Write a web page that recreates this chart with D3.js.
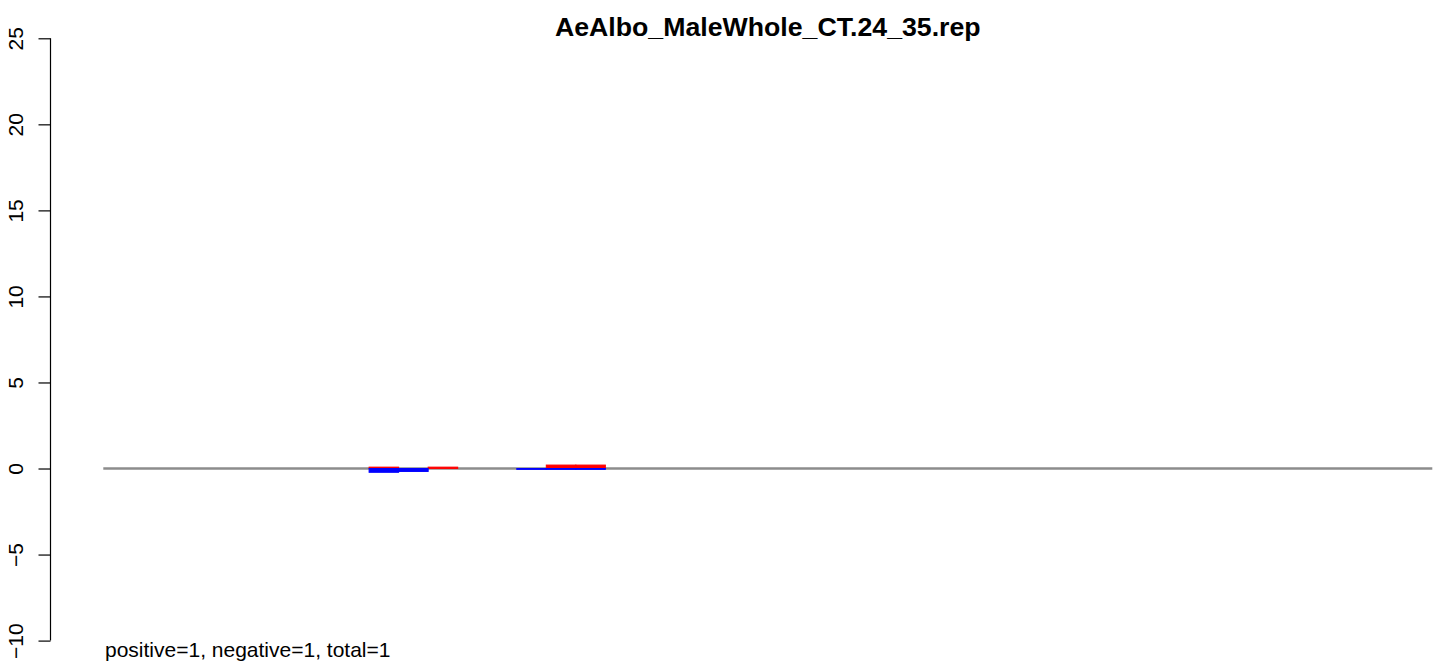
<!DOCTYPE html>
<html>
<head>
<meta charset="utf-8">
<script src="https://cdn.jsdelivr.net/npm/d3@7"></script>
<style>
  html, body { margin: 0; padding: 0; background: #fff; }
  svg { display: block; }
  text { font-family: "Liberation Sans", Arial, sans-serif; }
</style>
</head>
<body>
<svg id="chart" width="1439" height="664"></svg>
<script>
// ---- data ----
const chartTitle = "AeAlbo_MaleWhole_CT.24_35.rep";
const footnote = "positive=1, negative=1, total=1";
const binCount = 45;                       // x positions 0..44
const yTicks = [-10, -5, 0, 5, 10, 15, 20, 25];
const positiveBins   = [9, 11, 15, 16];
const positiveValues = [0.08, 0.08, 0.2, 0.2];
const negativeBins   = [9, 10, 14, 15, 16];
const negativeValues = [-0.22, -0.17, -0.05, -0.05, -0.05];

// ---- layout ----
const svg = d3.select("#chart");
const x = d3.scaleLinear().domain([0, binCount]).range([103.3, 1432.3]);
const y = d3.scaleLinear().domain([-10, 25]).range([640.6, 38.3]);

// y axis
const yAxis = d3.axisLeft(y).tickValues(yTicks).tickSize(12).tickPadding(0)
  .tickFormat(d => d < 0 ? "\u2212" + Math.abs(d) : String(d));
const gy = svg.append("g").attr("transform", "translate(50.5,0)").call(yAxis);
gy.select(".domain").attr("d", `M0,${y(-10)}V${y(25)}`).attr("stroke", "#000").attr("stroke-width", 1.2);
gy.selectAll(".tick line").attr("stroke", "#000").attr("stroke-width", 1.2);
gy.selectAll(".tick text")
  .attr("font-size", 21)
  .attr("fill", "#000")
  .attr("text-anchor", "middle")
  .attr("dy", null)
  .attr("x", null)
  .attr("transform", "translate(-28,0) rotate(-90)");

// zero line
svg.append("line")
  .attr("x1", x(0)).attr("x2", x(binCount))
  .attr("y1", y(0)).attr("y2", y(0))
  .attr("stroke", "#8c8c8c").attr("stroke-width", 2.4);

// positive bars (red)
svg.append("g").selectAll("rect")
  .data(positiveBins.map((b, i) => ({ b, v: positiveValues[i] })))
  .join("rect")
  .attr("x", d => x(d.b)).attr("width", d => x(d.b + 1) - x(d.b))
  .attr("y", d => y(d.v)).attr("height", d => y(0) - y(d.v))
  .attr("fill", "#ff0000").attr("stroke", "#ff0000").attr("stroke-width", 1);

// negative bars (blue)
svg.append("g").selectAll("rect")
  .data(negativeBins.map((b, i) => ({ b, v: negativeValues[i] })))
  .join("rect")
  .attr("x", d => x(d.b)).attr("width", d => x(d.b + 1) - x(d.b))
  .attr("y", y(0)).attr("height", d => y(d.v) - y(0))
  .attr("fill", "#0000ff").attr("stroke", "#0000ff").attr("stroke-width", 1);

// title
svg.append("text")
  .attr("x", (x(0) + x(binCount)) / 2).attr("y", 36)
  .attr("text-anchor", "middle")
  .attr("font-size", 26.7).attr("font-weight", "bold")
  .text(chartTitle);

// footnote
svg.append("text")
  .attr("x", 105).attr("y", 657)
  .attr("font-size", 21)
  .text(footnote);
</script>
</body>
</html>
